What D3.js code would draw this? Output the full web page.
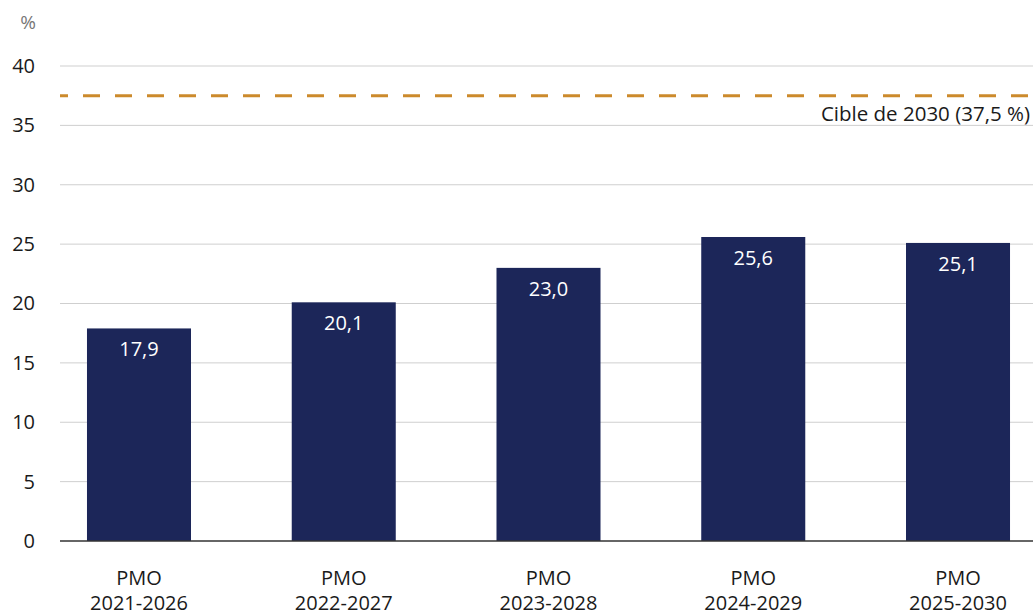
<!DOCTYPE html>
<html>
<head>
<meta charset="utf-8">
<script src="https://cdn.jsdelivr.net/npm/d3@7"></script>
<style>
  html, body { margin: 0; padding: 0; background: #fff; }
  svg { display: block; font-family: "Open Sans", "Noto Sans", sans-serif; }
</style>
</head>
<body>
<svg id="chart" width="1035" height="616"></svg>
<script>
// Part of the GHG reduction measured in each PMO period
const categories = ["PMO\n2021-2026", "PMO\n2022-2027", "PMO\n2023-2028", "PMO\n2024-2029", "PMO\n2025-2030"];
const values = [17.9, 20.1, 23.0, 25.6, 25.1];
const yTicks = [0, 5, 10, 15, 20, 25, 30, 35, 40];
const target = 37.5;
const targetLabel = "Cible de 2030 (37,5 %)";

(function () {
  const svg = d3.select("#chart");
  const plotLeft = 60, plotRight = 1033, plotTop = 66, plotBottom = 541;

  const x = d3.scaleBand()
    .domain(categories)
    .range([plotLeft + 2, plotRight + 2])
    .paddingInner(0.492)
    .paddingOuter(0.122);

  const y = d3.scaleLinear().domain([0, 40]).range([plotBottom, plotTop]);

  const fmt = v => d3.format(".1f")(v).replace(".", ",");

  // gridlines
  svg.append("g")
    .selectAll("line")
    .data(yTicks.filter(d => d > 0))
    .join("line")
    .attr("x1", plotLeft).attr("x2", plotRight)
    .attr("y1", d => y(d)).attr("y2", d => y(d))
    .attr("stroke", "#cfcfcf").attr("stroke-width", 1);

  // y axis labels
  const yAxis = d3.axisLeft(y).tickValues(yTicks).tickSize(0).tickPadding(0);
  const gy = svg.append("g").attr("transform", "translate(35,0)").call(yAxis);
  gy.select(".domain").remove();
  gy.selectAll("text")
    .attr("font-size", 20)
    .attr("fill", "#1a1a1a")
    .attr("font-family", "'Open Sans', 'Noto Sans', sans-serif");

  // unit
  svg.append("text")
    .attr("x", 36).attr("y", 29)
    .attr("text-anchor", "end")
    .attr("font-size", 19)
    .attr("fill", "#777")
    .text("%");

  // bars
  svg.append("g")
    .selectAll("rect")
    .data(values)
    .join("rect")
    .attr("x", (d, i) => x(categories[i]))
    .attr("width", x.bandwidth())
    .attr("y", d => y(d))
    .attr("height", d => y(0) - y(d))
    .attr("fill", "#1c2659");

  // value labels inside bars
  svg.append("g")
    .selectAll("text")
    .data(values)
    .join("text")
    .attr("x", (d, i) => x(categories[i]) + x.bandwidth() / 2)
    .attr("y", d => y(d) + 28)
    .attr("text-anchor", "middle")
    .attr("font-size", 20)
    .attr("fill", "#fff")
    .text(d => fmt(d));

  // baseline
  svg.append("line")
    .attr("x1", plotLeft).attr("x2", plotRight)
    .attr("y1", y(0)).attr("y2", y(0))
    .attr("stroke", "#333").attr("stroke-width", 1.5);

  // category labels
  const gx = svg.append("g");
  categories.forEach(c => {
    const cx = x(c) + x.bandwidth() / 2;
    const t = gx.append("text")
      .attr("x", cx)
      .attr("y", 585)
      .attr("text-anchor", "middle")
      .attr("font-size", 20)
      .attr("fill", "#1a1a1a");
    c.split("\n").forEach((l, i) => {
      t.append("tspan")
        .attr("x", cx)
        .attr("dy", i === 0 ? 0 : 25)
        .text(l);
    });
  });

  // target line
  svg.append("line")
    .attr("x1", plotLeft).attr("x2", plotRight)
    .attr("y1", y(target)).attr("y2", y(target))
    .attr("stroke", "#cc8a2c")
    .attr("stroke-width", 3)
    .attr("stroke-dasharray", "17,15")
    .attr("stroke-dashoffset", 9);

  svg.append("text")
    .attr("x", 1030).attr("y", y(target) + 25)
    .attr("text-anchor", "end")
    .attr("font-size", 20.5)
    .attr("fill", "#1a1a1a")
    .text(targetLabel);
})();
</script>
</body>
</html>
